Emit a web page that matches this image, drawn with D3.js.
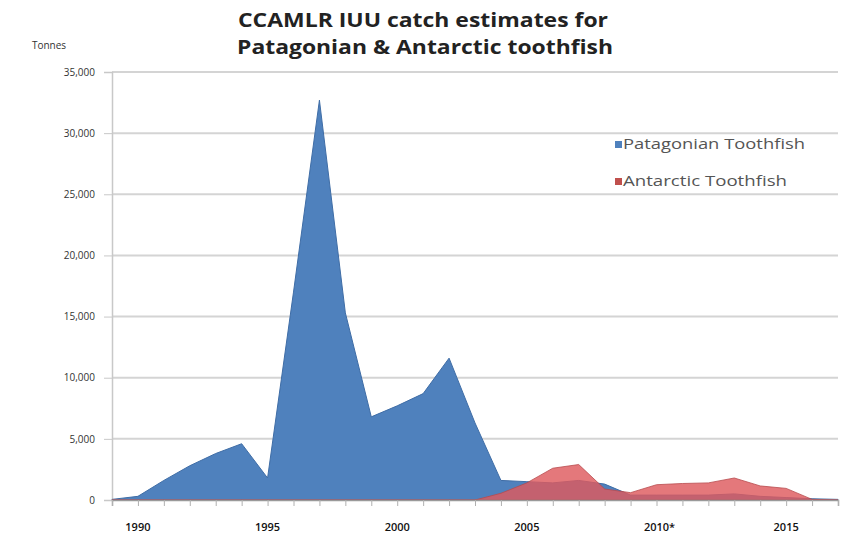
<!DOCTYPE html>
<html>
<head>
<meta charset="utf-8">
<script src="https://cdnjs.cloudflare.com/ajax/libs/d3/7.8.5/d3.min.js"></script>
<style>
  body { margin: 0; background: #fff; }
  text { font-family: "Open Sans", "Liberation Sans", sans-serif; }
</style>
</head>
<body>
<div id="chart"></div>
<script>
// categories (seasons) and tonnes
var years = [1989, 1990, 1991, 1992, 1993, 1994, 1995, 1996, 1997, 1998, 1999,
             2000, 2001, 2002, 2003, 2004, 2005, 2006, 2007, 2008, 2009,
             2010, 2011, 2012, 2013, 2014, 2015, 2016, 2017];
var patagonian = [50, 300, 1600, 2800, 3800, 4600, 1800, 17000, 32700, 15300, 6800,
                  7700, 8700, 11600, 6300, 1600, 1500, 1400, 1600, 1300, 400,
                  400, 400, 400, 500, 300, 200, 100, 50];
var antarctic = [0, 0, 0, 0, 0, 0, 0, 0, 0, 0, 0,
                 0, 0, 0, 0, 550, 1400, 2600, 2900, 900, 600,
                 1250, 1350, 1400, 1800, 1150, 950, 50, 0];
var tickYears = [1990, 1995, 2000, 2005, 2010, 2015];
var tickNames = ['1990', '1995', '2000', '2005', '2010*', '2015'];
var yTicks = [0, 5000, 10000, 15000, 20000, 25000, 30000, 35000];
var seriesNames = ['Patagonian Toothfish', 'Antarctic Toothfish'];

var width = 844;
var height = 534;

var svg = d3.select('#chart').append('svg')
    .attr('width', width)
    .attr('height', height);

var x = d3.scalePoint().domain(years).range([112, 838]);
var y = d3.scaleLinear().domain([0, 35000]).range([500, 72]);

// gridlines
svg.selectAll('line.grid')
    .data(yTicks.slice(1))
    .enter().append('line')
        .attr('x1', 112)
        .attr('x2', 838)
        .attr('y1', function(d){ return y(d); })
        .attr('y2', function(d){ return y(d); })
        .style('stroke', '#d4d4d4')
        .style('stroke-width', 2);

// y axis
var yAxis = d3.axisLeft(y)
    .tickValues(yTicks)
    .tickSize(8)
    .tickPadding(9)
    .tickFormat(d3.format(','));
var gy = svg.append('g').attr('transform', 'translate(112,0)').call(yAxis);
gy.select('.domain').style('stroke', '#c8c8c8').style('stroke-width', 1.5);
gy.selectAll('.tick line').style('stroke', '#c8c8c8');
gy.selectAll('.tick text')
    .style('font-size', '10px')
    .style('fill', '#333');

var area = function(values){
    return d3.area()
        .x(function(d, i){ return x(years[i]); })
        .y0(y(0))
        .y1(function(d){ return y(d); })(values);
};

svg.append('path')
    .attr('d', area(patagonian))
    .style('fill', '#4F81BD')
    .style('stroke', '#3F6DA6')
    .style('stroke-width', 1);

svg.append('path')
    .attr('d', area(antarctic))
    .style('fill', '#DE5A5E')
    .style('fill-opacity', 0.82)
    .style('stroke', '#B84A4D')
    .style('stroke-width', 0.8);

// x axis
var xAxis = d3.axisBottom(x)
    .tickSize(6)
    .tickFormat('');
var gx = svg.append('g').attr('transform', 'translate(0,500)').call(xAxis);
gx.select('.domain').style('stroke', '#9a9a9a').style('stroke-width', 1.5);
gx.selectAll('.tick line').style('stroke', '#b0b0b0');

svg.selectAll('text.xlab')
    .data(tickYears)
    .enter().append('text')
        .attr('x', function(d){ return x(d) + (d === 2010 ? 3 : 0); })
        .attr('y', 531)
        .attr('text-anchor', 'middle')
        .style('font-size', '11px')
        .style('font-weight', '600')
        .style('fill', '#111')
        .text(function(d, i){ return tickNames[i]; });

// axis title
svg.append('text')
    .attr('x', 49)
    .attr('y', 49)
    .attr('text-anchor', 'middle')
    .style('font-size', '10px')
    .style('fill', '#333')
    .text('Tonnes');

// chart title
svg.append('text')
    .attr('x', 423)
    .attr('y', 27)
    .attr('text-anchor', 'middle')
    .attr('textLength', 370)
    .attr('lengthAdjust', 'spacingAndGlyphs')
    .style('font-size', '20px')
    .style('font-weight', 'bold')
    .style('fill', '#222')
    .text('CCAMLR IUU catch estimates for');
svg.append('text')
    .attr('x', 425)
    .attr('y', 54)
    .attr('text-anchor', 'middle')
    .attr('textLength', 376)
    .attr('lengthAdjust', 'spacingAndGlyphs')
    .style('font-size', '20px')
    .style('font-weight', 'bold')
    .style('fill', '#222')
    .text('Patagonian & Antarctic toothfish');

// legend
var legendColors = ['#4F81BD', '#C0504D'];
var legend = svg.selectAll('g.legend')
    .data(seriesNames)
    .enter().append('g')
        .attr('transform', function(d, i){ return 'translate(615,' + (141 + i * 37) + ')'; });
legend.append('rect')
    .attr('width', 7)
    .attr('height', 7)
    .style('fill', function(d, i){ return legendColors[i]; });
legend.append('text')
    .attr('x', 8)
    .attr('y', 8)
    .attr('textLength', function(d, i){ return i === 0 ? 182 : 164; })
    .attr('lengthAdjust', 'spacingAndGlyphs')
    .style('font-size', '14px')
    .style('fill', '#555')
    .text(function(d){ return d; });
</script>
</body>
</html>
